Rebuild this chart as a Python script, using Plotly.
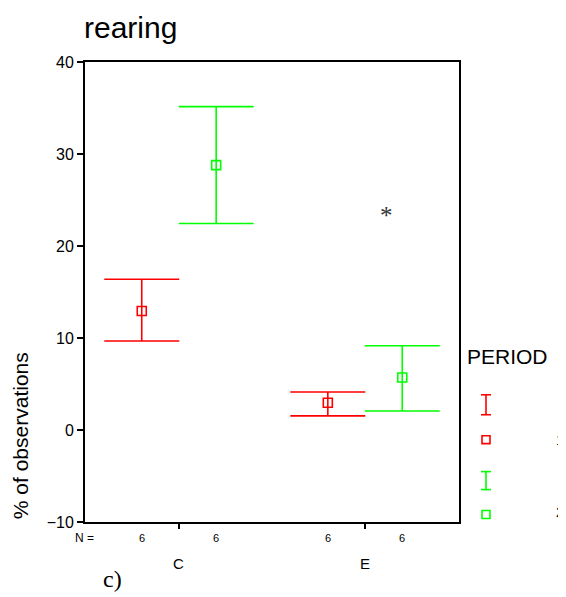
import plotly.graph_objects as go

# ---- data ----
categories = ["C", "E"]
periods = ["1", "2"]
period_colors = ["#FF0000", "#00FF00"]
means = {"1": [12.93, 2.97], "2": [28.79, 5.71]}
upper = {"1": [16.38, 4.13], "2": [35.15, 9.15]}
lower = {"1": [9.67, 1.53], "2": [22.44, 2.07]}
n_obs = {"1": [6, 6], "2": [6, 6]}
outlier_category = "E"
outlier_value = 23.9
y_ticks = [-10, 0, 10, 20, 30, 40]

# the page body has an 8px margin; lay the figure out in window pixels minus that
OFF = 8
WIN_W, WIN_H = 566, 597
W, H = WIN_W - OFF, WIN_H - OFF
SANS = "Liberation Sans, Arial, sans-serif"
SERIF = "Liberation Serif, Times New Roman, serif"

offsets = {"1": -0.2, "2": 0.2}
cat_pos = {c: i + 1 for i, c in enumerate(categories)}

fig = go.Figure()
for p, col in zip(periods, period_colors):
    xs = [cat_pos[c] + offsets[p] for c in categories]
    m = means[p]
    fig.add_trace(go.Scatter(
        x=xs, y=m, mode="markers",
        marker=dict(symbol="square-open", size=9, color=col, line=dict(width=1.6, color=col)),
        error_y=dict(type="data", symmetric=False,
                     array=[u - v for u, v in zip(upper[p], m)],
                     arrayminus=[v - l for v, l in zip(m, lower[p])],
                     color=col, thickness=1.6, width=37.5),
        showlegend=False))

# plot-area edges in window pixels
WL, WR, WT, WB = 85, 459, 61.5, 522.5
L, T = WL - OFF, WT - OFF
R, B = W - (WR - OFF), H - (WB - OFF)
pw, ph = W - L - R, H - T - B

def px_x(x):  # window pixel -> paper x
    return (x - OFF - L) / pw

def px_y(y):  # window pixel -> paper y
    return (H - B - (y - OFF)) / ph

fig.update_layout(
    width=W, height=H, autosize=False, margin=dict(l=L, r=R, t=T, b=B, pad=0),
    paper_bgcolor="white", plot_bgcolor="white",
    xaxis=dict(range=[0.495, 2.505], automargin=False,
               tickvals=[cat_pos[c] for c in categories], ticktext=["", ""],
               ticks="outside", ticklen=5, tickwidth=1.5, tickcolor="black",
               showgrid=False, zeroline=False, showline=True, linecolor="black",
               linewidth=2, mirror=True, fixedrange=True),
    yaxis=dict(range=[-10, 40], automargin=False,
               tickvals=y_ticks, ticks="outside", ticklen=6, tickwidth=1.5, tickcolor="black",
               tickfont=dict(family=SANS, size=16, color="black"),
               showgrid=False, zeroline=False, showline=True, linecolor="black",
               linewidth=2, mirror=True, fixedrange=True),
    showlegend=False,
)

# legend (PERIOD) icons
leg_y_I = [(395, 415), (472, 490)]
leg_y_sq = [440, 515]
shapes = []
for col, (y0, y1), ys in zip(period_colors, leg_y_I, leg_y_sq):
    shapes.append(dict(type="line", xref="paper", yref="paper", x0=px_x(486), x1=px_x(486),
                       y0=px_y(y0), y1=px_y(y1), line=dict(color=col, width=1.6)))
    for yy in (y0, y1):
        shapes.append(dict(type="line", xref="paper", yref="paper", x0=px_x(481), x1=px_x(491),
                           y0=px_y(yy), y1=px_y(yy), line=dict(color=col, width=1.6)))
    shapes.append(dict(type="rect", xref="paper", yref="paper", x0=px_x(482), x1=px_x(490),
                       y0=px_y(ys - 4), y1=px_y(ys + 4), line=dict(color=col, width=1.6)))
fig.update_layout(shapes=shapes)

ann = []
def a(text, x, y, size, xref="paper", family=SANS, xanchor="center", angle=0):
    ann.append(dict(text=text, x=(px_x(x) if xref == "paper" else x), y=px_y(y), xref=xref, yref="paper",
                    showarrow=False, font=dict(family=family, size=size, color="black"),
                    xanchor=xanchor, yanchor="middle", textangle=angle,
                    borderpad=0, borderwidth=0))

a("rearing", 84, 27, 30, xanchor="left")
a("% of observations", 20.5, 436, 21, angle=-90)
a("N =", 84, 539, 12)
for p in periods:
    for c, n in zip(categories, n_obs[p]):
        a(str(n), cat_pos[c] + offsets[p], 539, 11, xref="x")
for c in categories:
    a(c, cat_pos[c], 564, 15, xref="x")
a("c)", 112, 580, 24, family=SERIF)
a("PERIOD", 467, 357, 21, xanchor="left")
for p, ys in zip(periods, [440, 512]):
    a(p, 556, ys, 15, xanchor="left")

# outlier asterisk, placed at its value on the data axes
ann.append(dict(text="*", x=cat_pos[outlier_category] + 0.118, y=outlier_value, xref="x", yref="y",
                showarrow=False, yshift=-5, xanchor="center", yanchor="middle",
                font=dict(family=SERIF, size=25, color="#333333")))
fig.update_layout(annotations=ann)

fig.write_html("out.html")
